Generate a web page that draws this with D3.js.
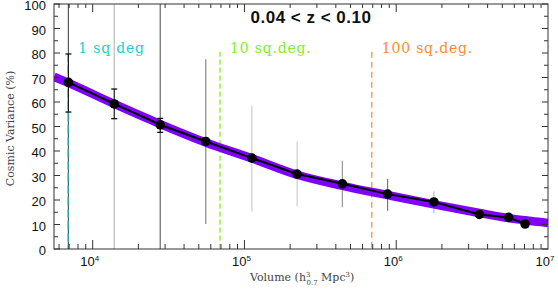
<!DOCTYPE html>
<html>
<head>
<meta charset="utf-8">
<script src="https://cdn.jsdelivr.net/npm/d3@7"></script>
<style>
  body { margin: 0; background: #fff; }
  svg { display: block; }
  .tick-label { font-family: "Liberation Sans", Arial, sans-serif; font-size: 13px; fill: #111; }
  .axis-title { font-family: "DejaVu Serif", serif; font-size: 11px; fill: #444; }
  .area-label { font-family: "DejaVu Serif", serif; font-size: 14px; letter-spacing: 0.8px; }
  .title { font-family: "Liberation Sans", Arial, sans-serif; font-size: 17px; font-weight: bold; fill: #111; letter-spacing: 0.5px; }
</style>
</head>
<body>
<div id="vis"></div>
<script>
const FRAME_WIDTH = 558;
const FRAME_HEIGHT = 291;
const MARGINS = {left: 54, right: 10, top: 4, bottom: 42};
const VIS_WIDTH = FRAME_WIDTH - MARGINS.left - MARGINS.right;
const VIS_HEIGHT = FRAME_HEIGHT - MARGINS.top - MARGINS.bottom;

// measured cosmic variance points
const VOLUMES = [6918, 13868, 27861, 55590, 111944, 222331, 441570, 877000, 1770000, 3532000, 5508000, 7063000];
const VARIANCE = [68.0, 59.2, 50.7, 43.9, 37.1, 30.6, 26.6, 22.4, 19.2, 14.1, 12.9, 10.2];
// small black error bars (with caps)
const ERR_LO = [55.9, 53.2, 47.6, null, null, null, null, null, null, null, null, null];
const ERR_HI = [79.6, 65.3, 53.3, null, null, null, null, null, null, null, null, null];
// wide grey ranges
const RANGE_LO = [0, 0, 0, 10.2, 15.3, 17.4, 17.0, 15.6, 14.7, null, null, null];
const RANGE_HI = [100, 100, 100, 77.5, 58.5, 43.9, 36.0, 28.6, 23.5, null, null, null];
const RANGE_SHADES = ["#555", "#bbb", "#666", "#888", "#ccc", "#ccc", "#999", "#777", "#bbb"];

// model curve (purple band)
const MODEL_VOL = [5560, 6918, 13868, 27861, 55590, 111944, 222331, 441570, 877000, 1770000, 3532000, 5508000, 7063000, 10000000];
const MODEL_VAR = [70.3, 67.8, 59.2, 51.0, 43.5, 37.0, 30.3, 25.8, 22.0, 18.2, 14.7, 12.6, 11.7, 10.6];

// survey areas
const AREA_LABELS = ["1 sq deg", "10 sq.deg.", "100 sq.deg."];
const AREA_VOLUMES = [6900, 69000, 690000];
const AREA_TOP = 80.5;
const AREA_COLORS = ["#20d0d0", "#80f020", "#ff8c28"];
const AREA_LINE_COLORS = ["#2aa8a8", "#80f020", "#ff9030"];
const AREA_DASH = ["9,3", "5,3", "6,4"];

const Y_TICKS = [0, 10, 20, 30, 40, 50, 60, 70, 80, 90, 100];
const X_DECADES = [4, 5, 6, 7];

const X_SCALE = d3.scaleLog().domain([5560, 1e7]).range([0, VIS_WIDTH]);
const Y_SCALE = d3.scaleLinear().domain([0, 100]).range([VIS_HEIGHT, 0]);

const FRAME = d3.select("#vis")
  .append("svg")
    .attr("width", FRAME_WIDTH)
    .attr("height", FRAME_HEIGHT);

const G = FRAME.append("g")
  .attr("transform", "translate(" + MARGINS.left + "," + MARGINS.top + ")");

G.append("clipPath").attr("id", "clip")
  .append("rect").attr("width", VIS_WIDTH).attr("height", VIS_HEIGHT);

const PLOT = G.append("g").attr("clip-path", "url(#clip)");

// grey ranges
PLOT.selectAll(".range")
  .data(VOLUMES.map((v, i) => ({v: v, lo: RANGE_LO[i], hi: RANGE_HI[i], i: i})).filter(d => d.lo !== null))
  .enter()
  .append("line")
    .attr("x1", d => X_SCALE(d.v))
    .attr("x2", d => X_SCALE(d.v))
    .attr("y1", d => Y_SCALE(d.lo))
    .attr("y2", d => Y_SCALE(d.hi))
    .attr("stroke", d => RANGE_SHADES[d.i])
    .attr("stroke-width", 1.2);

// survey area dashed lines
AREA_VOLUMES.forEach((v, i) => {
  PLOT.append("line")
    .attr("x1", X_SCALE(v)).attr("x2", X_SCALE(v))
    .attr("y1", Y_SCALE(i === 0 ? 80 : AREA_TOP)).attr("y2", Y_SCALE(0))
    .attr("stroke", AREA_LINE_COLORS[i])
    .attr("stroke-width", 1.3)
    .attr("stroke-dasharray", AREA_DASH[i]);
  G.append("text")
    .attr("class", "area-label")
    .attr("x", X_SCALE(v) + 10)
    .attr("y", Y_SCALE(AREA_TOP) + 1)
    .attr("fill", AREA_COLORS[i])
    .text(AREA_LABELS[i]);
});

// purple model band
PLOT.append("path")
  .datum(MODEL_VOL.map((v, i) => [v, MODEL_VAR[i]]))
  .attr("fill", "none")
  .attr("stroke", "#8000ff")
  .attr("stroke-width", 8.5)
  .attr("d", d3.line().x(d => X_SCALE(d[0])).y(d => Y_SCALE(d[1])).curve(d3.curveMonotoneX));

// black error bars with caps
const ERRS = VOLUMES.map((v, i) => ({v: v, lo: ERR_LO[i], hi: ERR_HI[i]})).filter(d => d.lo !== null);
ERRS.forEach(d => {
  const x = X_SCALE(d.v);
  PLOT.append("line").attr("x1", x).attr("x2", x)
    .attr("y1", Y_SCALE(d.lo)).attr("y2", Y_SCALE(d.hi))
    .attr("stroke", "#111").attr("stroke-width", 1);
  [d.lo, d.hi].forEach(val => {
    PLOT.append("line").attr("x1", x - 3).attr("x2", x + 3)
      .attr("y1", Y_SCALE(val)).attr("y2", Y_SCALE(val))
      .attr("stroke", "#111").attr("stroke-width", 1.3);
  });
});

// black data line and points
PLOT.append("path")
  .datum(VOLUMES.map((v, i) => [v, VARIANCE[i]]))
  .attr("fill", "none")
  .attr("stroke", "#000")
  .attr("stroke-width", 2)
  .attr("d", d3.line().x(d => X_SCALE(d[0])).y(d => Y_SCALE(d[1])));

PLOT.selectAll(".point")
  .data(VOLUMES.map((v, i) => [v, VARIANCE[i]]))
  .enter()
  .append("circle")
    .attr("cx", d => X_SCALE(d[0]))
    .attr("cy", d => Y_SCALE(d[1]))
    .attr("r", 4.8)
    .attr("fill", "#000");

// frame
G.append("rect")
  .attr("width", VIS_WIDTH).attr("height", VIS_HEIGHT)
  .attr("fill", "none").attr("stroke", "#333").attr("stroke-width", 1);

// y ticks (left + right, inward)
d3.range(0, 101, 5).forEach(t => {
  const len = t % 10 === 0 ? 6 : 4;
  const y = Y_SCALE(t);
  G.append("line").attr("x1", 0).attr("x2", len).attr("y1", y).attr("y2", y).attr("stroke", "#333");
  G.append("line").attr("x1", VIS_WIDTH - len).attr("x2", VIS_WIDTH).attr("y1", y).attr("y2", y).attr("stroke", "#333");
});
G.selectAll(".ylab")
  .data(Y_TICKS)
  .enter()
  .append("text")
    .attr("class", "tick-label")
    .attr("x", -8)
    .attr("y", d => Y_SCALE(d) + 6)
    .attr("text-anchor", "end")
    .text(d => d);

// x ticks (bottom + top, inward)
const xMinor = [];
X_DECADES.forEach(e => {
  for (let m = 1; m < 10; m++) {
    const v = m * Math.pow(10, e - 1);
    if (v >= X_SCALE.domain()[0] && v <= X_SCALE.domain()[1]) xMinor.push(v);
  }
});
xMinor.forEach(v => {
  const major = Math.abs(Math.log10(v) - Math.round(Math.log10(v))) < 1e-9;
  const x = X_SCALE(v);
  G.append("line").attr("x1", x).attr("x2", x)
    .attr("y1", VIS_HEIGHT).attr("y2", VIS_HEIGHT - (major ? 9 : 5)).attr("stroke", "#333");
  G.append("line").attr("x1", x).attr("x2", x)
    .attr("y1", 0).attr("y2", major ? 8 : 4).attr("stroke", "#333");
});
X_DECADES.forEach(e => {
  const t = G.append("text")
    .attr("class", "tick-label")
    .attr("x", X_SCALE(Math.pow(10, e)) - 3)
    .attr("y", VIS_HEIGHT + 17)
    .attr("text-anchor", "middle");
  t.append("tspan").text("10");
  t.append("tspan").attr("dy", -5).attr("font-size", "8px").text(e);
});

// axis titles
G.append("text")
  .attr("class", "axis-title")
  .attr("transform", "translate(" + (-40) + "," + (VIS_HEIGHT / 2 + 2) + ") rotate(-90)")
  .attr("text-anchor", "middle")
  .text("Cosmic Variance (%)");

const XT = G.append("text")
  .attr("class", "axis-title")
  .attr("x", 196)
  .attr("y", VIS_HEIGHT + 32);
XT.append("tspan").text("Volume (h");
XT.append("tspan").attr("font-size", "7px").attr("dy", -4).text("3");
XT.append("tspan").attr("font-size", "7px").attr("dx", -4).attr("dy", 8).text("0.7");
XT.append("tspan").attr("dy", -4).text(" Mpc");
XT.append("tspan").attr("font-size", "7px").attr("dy", -4).text("3");
XT.append("tspan").attr("dy", 4).text(")");

// title
G.append("text")
  .attr("class", "title")
  .attr("x", 257)
  .attr("y", 19)
  .attr("text-anchor", "middle")
  .text("0.04 < z < 0.10");
</script>
</body>
</html>
